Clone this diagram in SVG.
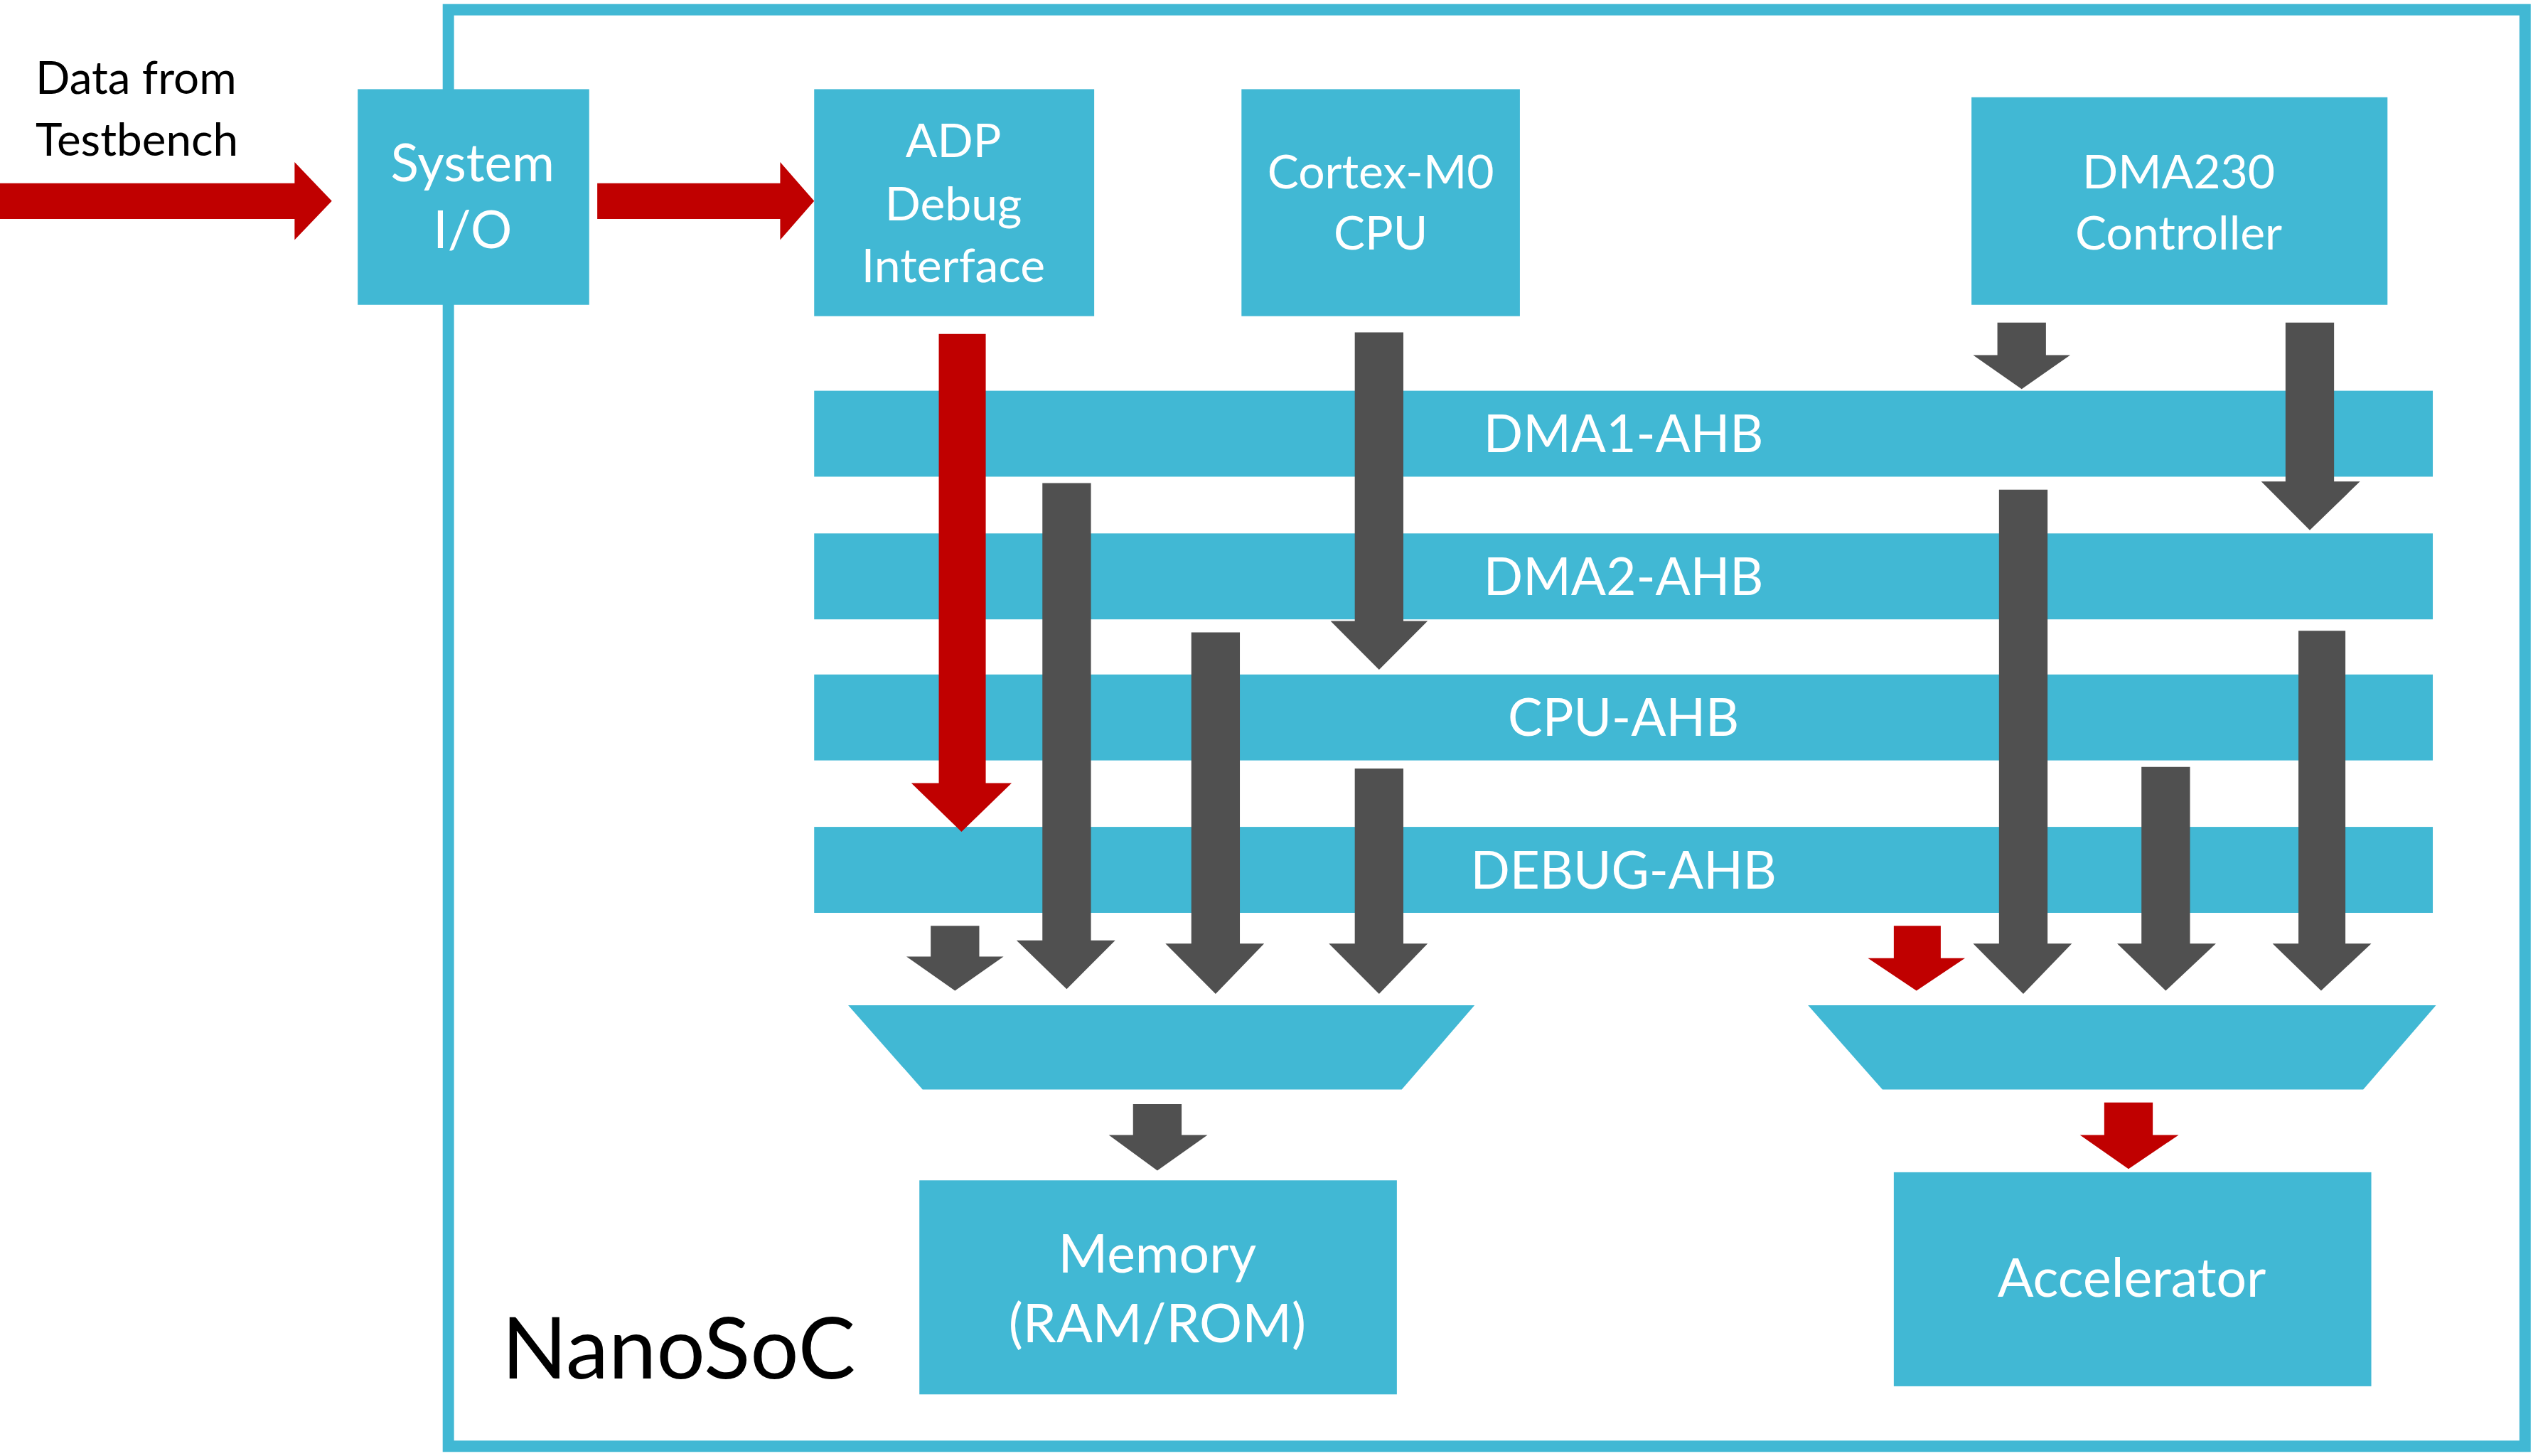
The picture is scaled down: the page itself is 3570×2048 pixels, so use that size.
<svg xmlns="http://www.w3.org/2000/svg" width="3570" height="2048" viewBox="0 0 3570 2048">
<defs>
<style>
.box{fill:#41b8d4}
.wt{fill:#fff;font-family:Lato,"Liberation Sans",sans-serif;text-anchor:middle}
.bt{fill:#000;font-family:Lato,"Liberation Sans",sans-serif}
.g{fill:#505050}
.r{fill:#c00000}
</style>
</defs>
<rect width="3570" height="2048" fill="#fff"/>
<g transform="scale(2.2768 2.2806)">
<rect x="277" y="6" width="1283" height="886" fill="none" stroke="#41b8d4" stroke-width="7"/>
<g id="testbench"><text class="bt" x="22" y="58" font-size="28">Data from</text><text class="bt" x="22" y="96" font-size="28">Testbench</text></g>
<text class="bt" x="310" y="850" font-size="53">NanoSoC</text>
<g id="sysio"><rect class="box" x="221" y="55" width="143" height="133"/><text class="wt" x="292" y="112" font-size="32">System</text><text class="wt" x="292" y="153" font-size="32">I/O</text></g>
<g id="adp"><rect class="box" x="503" y="55" width="173" height="140"/><text class="wt" x="589" y="97" font-size="29">ADP</text><text class="wt" x="589" y="136" font-size="29">Debug</text><text class="wt" x="589" y="174" font-size="29">Interface</text></g>
<g id="cpu"><rect class="box" x="767" y="55" width="172" height="140"/><text class="wt" x="853" y="116" font-size="29">Cortex-M0</text><text class="wt" x="853" y="154" font-size="29">CPU</text></g>
<g id="dma"><rect class="box" x="1218" y="60" width="257" height="128"/><text class="wt" x="1346" y="116" font-size="29">DMA230</text><text class="wt" x="1346" y="154" font-size="29">Controller</text></g>
<g id="dma1"><rect class="box" x="503" y="241" width="1000" height="53"/><text class="wt" x="1003" y="279" font-size="32">DMA1-AHB</text></g>
<g id="dma2"><rect class="box" x="503" y="329" width="1000" height="53"/><text class="wt" x="1003" y="367" font-size="32">DMA2-AHB</text></g>
<g id="cpuahb"><rect class="box" x="503" y="416" width="1000" height="53"/><text class="wt" x="1003" y="454" font-size="32">CPU-AHB</text></g>
<g id="debugahb"><rect class="box" x="503" y="510" width="1000" height="53"/><text class="wt" x="1003" y="548" font-size="32">DEBUG-AHB</text></g>
<g id="mux1"><polygon class="box" points="524,620 911,620 866,672 570,672"/></g>
<g id="mux2"><polygon class="box" points="1117,620 1505,620 1460,672 1163,672"/></g>
<g id="memory"><rect class="box" x="568" y="728" width="295" height="132"/><text class="wt" x="715" y="785" font-size="33">Memory</text><text class="wt" x="715" y="828" font-size="33">(RAM/ROM)</text></g>
<g id="accel"><rect class="box" x="1170" y="723" width="295" height="132"/><text class="wt" x="1317" y="800" font-size="33">Accelerator</text></g>
<g id="connectors">
<polygon class="r" points="0,113 182,113 182,100 205,124 182,148 182,135 0,135"/>
<polygon class="r" points="369,113 482,113 482,100 503,124 482,148 482,135 369,135"/>
<polygon class="r" points="580,206 609,206 609,483 625,483 594,513 563,483 580,483"/>
<polygon class="g" points="644,298 674,298 674,580 689,580 659,610 628,580 644,580"/>
<polygon class="g" points="736,390 766,390 766,582 781,582 751,613 720,582 736,582"/>
<polygon class="g" points="837,205 867,205 867,383 882,383 852,413 822,383 837,383"/>
<polygon class="g" points="837,474 867,474 867,582 882,582 852,613 821,582 837,582"/>
<polygon class="g" points="575,571 605,571 605,590 620,590 590,611 560,590 575,590"/>
<polygon class="g" points="1234,199 1264,199 1264,219 1279,219 1249,240 1219,219 1234,219"/>
<polygon class="g" points="1412,199 1442,199 1442,297 1458,297 1427,327 1397,297 1412,297"/>
<polygon class="g" points="1235,302 1265,302 1265,582 1280,582 1250,613 1219,582 1235,582"/>
<polygon class="r" points="1170,571 1199,571 1199,591 1214,591 1184,611 1154,591 1170,591"/>
<polygon class="g" points="1323,473 1353,473 1353,582 1369,582 1338,611 1308,582 1323,582"/>
<polygon class="g" points="1420,389 1449,389 1449,582 1465,582 1434,611 1404,582 1420,582"/>
<polygon class="g" points="700,681 730,681 730,700 746,700 715,722 685,700 700,700"/>
<polygon class="r" points="1300,680 1330,680 1330,700 1346,700 1315,721 1285,700 1300,700"/>
</g>
</g>
</svg>
